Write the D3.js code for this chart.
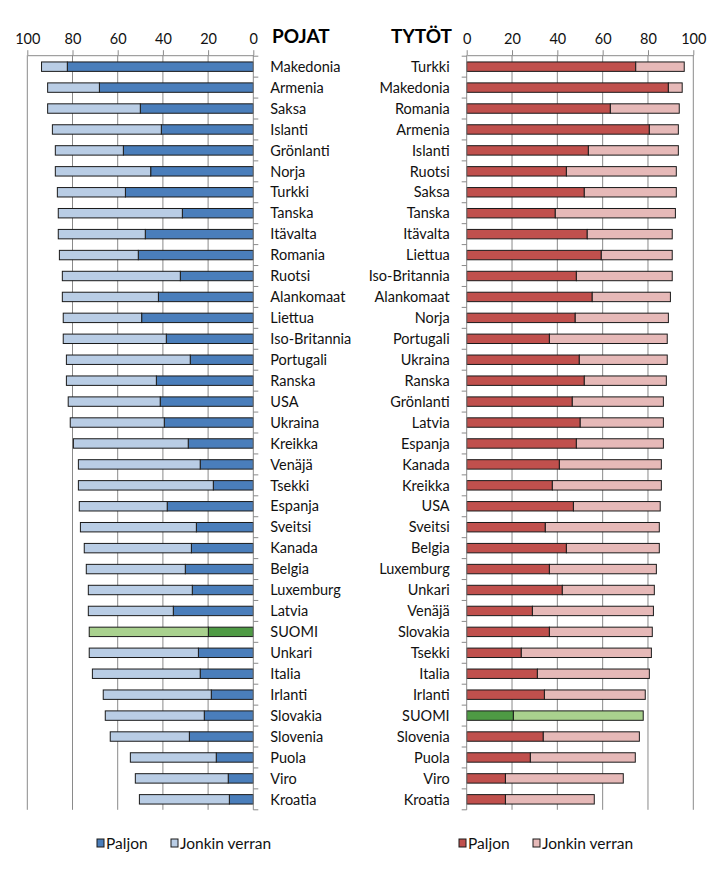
<!DOCTYPE html>
<html>
<head>
<meta charset="utf-8">
<script src="https://cdn.jsdelivr.net/npm/d3@7"></script>
<style>
  html, body { margin: 0; padding: 0; background: #fff; }
  svg { display: block; font-family: Lato, "Liberation Sans", sans-serif; }
</style>
</head>
<body>
<svg id="chart" width="718" height="874"></svg>
<script>
// ---- DATA ----
const boysCountries = ["Makedonia","Armenia","Saksa","Islanti","Grönlanti","Norja","Turkki","Tanska","Itävalta","Romania","Ruotsi","Alankomaat","Liettua","Iso-Britannia","Portugali","Ranska","USA","Ukraina","Kreikka","Venäjä","Tsekki","Espanja","Sveitsi","Kanada","Belgia","Luxemburg","Latvia","SUOMI","Unkari","Italia","Irlanti","Slovakia","Slovenia","Puola","Viro","Kroatia"];
const boysPaljon = [82.3,68.1,50.0,40.7,57.5,45.4,56.6,31.4,47.8,50.9,32.3,42.0,49.4,38.5,27.9,42.9,41.2,39.4,28.8,23.5,17.7,38.1,25.2,27.4,30.1,27.0,35.4,19.9,24.3,23.5,18.6,21.7,28.3,16.4,11.1,10.6];
const boysJonkin = [11.4,22.9,41.0,48.2,30.1,42.2,30.1,54.9,38.5,34.9,52.2,42.5,34.7,45.6,54.8,39.8,40.7,41.6,50.8,53.9,59.7,38.9,51.3,47.4,43.8,46.0,37.6,52.7,48.3,47.7,47.8,43.8,35.0,38.0,41.1,39.8];

const girlsCountries = ["Turkki","Makedonia","Romania","Armenia","Islanti","Ruotsi","Saksa","Tanska","Itävalta","Liettua","Iso-Britannia","Alankomaat","Norja","Portugali","Ukraina","Ranska","Grönlanti","Latvia","Espanja","Kanada","Kreikka","USA","Sveitsi","Belgia","Luxemburg","Unkari","Venäjä","Slovakia","Tsekki","Italia","Irlanti","SUOMI","Slovenia","Puola","Viro","Kroatia"];
const girlsPaljon = [74.6,89.0,63.4,80.6,53.7,44.0,51.9,39.1,53.2,59.4,48.4,55.4,47.9,36.5,49.7,51.9,46.6,50.1,48.4,40.9,37.8,47.1,34.7,44.0,36.5,42.2,29.0,36.5,24.1,31.2,34.3,20.6,33.8,28.1,17.1,17.1];
const girlsJonkin = [21.4,6.1,30.4,12.8,39.7,48.5,40.6,53.0,37.5,31.3,42.3,34.5,41.1,52.0,38.8,36.2,40.2,36.7,38.4,45.0,48.1,38.3,50.3,41.0,47.2,40.6,53.4,45.4,57.4,49.4,44.5,57.3,42.4,46.3,52.0,39.2];

const tickValues = [0, 20, 40, 60, 80, 100];
const seriesNames = ["Paljon", "Jonkin verran"];
const highlight = "SUOMI";

// ---- STYLE ----
const colBoys = ["#4A7EBB", "#B9CDE5"];
const colGirls = ["#C0504D", "#E6B9B8"];
const colFin = ["#4E9A44", "#A9D18E"];
const gridCol = "#8A8A8A";

const svg = d3.select("#chart");
const plotTop = 56.2, plotBottom = 809.8;

function panel(opts) {
  const { countries, paljon, jonkin, x, side, colors, title, titleX, titleAnchor } = opts;
  const y = d3.scaleBand().domain(countries).range([plotTop, plotBottom]).paddingInner(0.55).paddingOuter(0.275);
  const g = svg.append("g");

  // gridlines
  g.selectAll("line.grid").data(tickValues.filter(t => t !== 0)).join("line")
    .attr("x1", d => x(d)).attr("x2", d => x(d))
    .attr("y1", plotTop - 1).attr("y2", plotBottom)
    .attr("stroke", gridCol).attr("stroke-width", 1);

  // value axis on top
  const ax = g.append("g").attr("transform", `translate(0,${plotTop - 1})`)
    .call(d3.axisTop(x).tickValues(tickValues).tickSize(5).tickPadding(6).tickSizeOuter(0));
  ax.select(".domain").attr("stroke", gridCol);
  ax.selectAll(".tick line").attr("stroke", gridCol);
  ax.selectAll(".tick text").attr("font-size", "14.5px").attr("fill", "#111")
    .attr("font-family", "Lato, sans-serif");

  // bars
  const rows = countries.map((c, i) => ({ c, p: paljon[i], j: jonkin[i] }));
  const rg = g.selectAll("g.row").data(rows).join("g");
  rg.append("rect")
    .attr("x", d => Math.min(x(0), x(d.p)))
    .attr("width", d => Math.abs(x(d.p) - x(0)))
    .attr("y", d => y(d.c)).attr("height", y.bandwidth())
    .attr("fill", d => d.c === highlight ? colFin[0] : colors[0])
    .attr("stroke", "#1a1a1a").attr("stroke-width", 1);
  rg.append("rect")
    .attr("x", d => Math.min(x(d.p), x(d.p + d.j)))
    .attr("width", d => Math.abs(x(d.p + d.j) - x(d.p)))
    .attr("y", d => y(d.c)).attr("height", y.bandwidth())
    .attr("fill", d => d.c === highlight ? colFin[1] : colors[1])
    .attr("stroke", "#1a1a1a").attr("stroke-width", 1);

  // category axis line at 0 with ticks at band boundaries
  g.append("line").attr("x1", x(0)).attr("x2", x(0)).attr("y1", plotTop - 1).attr("y2", plotBottom)
    .attr("stroke", gridCol);
  const bounds = d3.range(countries.length + 1).map(i => plotTop + i * y.step());
  g.selectAll("line.ct").data(bounds).join("line")
    .attr("x1", x(0)).attr("x2", x(0) + side * 5)
    .attr("y1", d => d).attr("y2", d => d)
    .attr("stroke", gridCol);

  // category labels
  g.selectAll("text.cat").data(countries).join("text")
    .attr("x", x(0) + side * 17)
    .attr("y", d => y(d) + y.bandwidth() / 2)
    .attr("dy", "0.36em")
    .attr("text-anchor", side > 0 ? "start" : "end")
    .attr("font-size", "14.5px").attr("fill", "#111")
    .text(d => d);

  // title
  svg.append("text").attr("x", titleX).attr("y", 43)
    .attr("text-anchor", titleAnchor)
    .attr("font-size", "19px").attr("font-weight", "bold").attr("fill", "#000")
    .text(title);
}

const xL = d3.scaleLinear().domain([0, 100]).range([253.3, 27.3]);
const xR = d3.scaleLinear().domain([0, 100]).range([466.7, 693.3]);

panel({ countries: boysCountries, paljon: boysPaljon, jonkin: boysJonkin, x: xL, side: 1,
  colors: colBoys, title: "POJAT", titleX: 272, titleAnchor: "start" });
panel({ countries: girlsCountries, paljon: girlsPaljon, jonkin: girlsJonkin, x: xR, side: -1,
  colors: colGirls, title: "TYTÖT", titleX: 452, titleAnchor: "end" });

// legends
function legend(x0, colors) {
  const lg = svg.append("g").attr("transform", `translate(${x0},843)`);
  const offsets = [0, 74];
  seriesNames.forEach((n, i) => {
    lg.append("rect").attr("x", offsets[i]).attr("y", -4).attr("width", 7).attr("height", 8)
      .attr("fill", colors[i]).attr("stroke", "#1a1a1a").attr("stroke-width", 1);
    lg.append("text").attr("x", offsets[i] + 9).attr("y", 0).attr("dy", "0.36em")
      .attr("font-size", "15.5px").attr("fill", "#111").text(n);
  });
}
legend(97, colBoys);
legend(459, colGirls);
</script>
</body>
</html>
